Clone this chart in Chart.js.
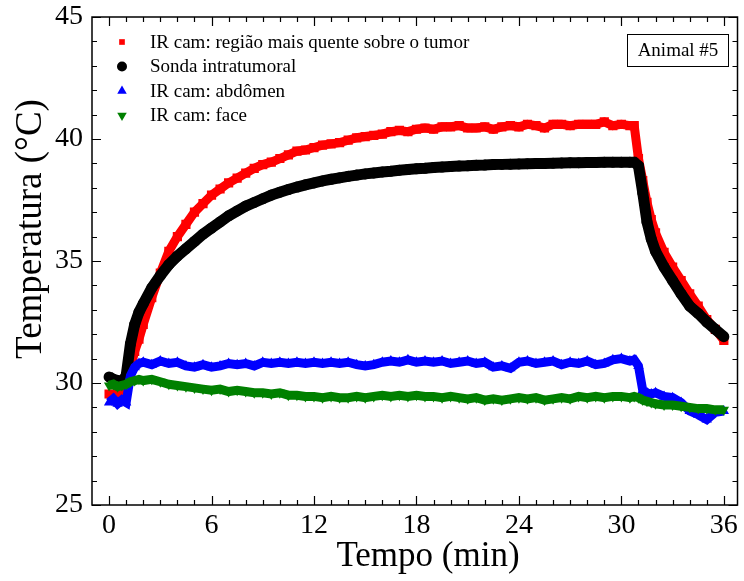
<!DOCTYPE html>
<html>
<head>
<meta charset="utf-8">
<script src="https://cdn.jsdelivr.net/npm/chart.js@4.4.0/dist/chart.umd.min.js"></script>
<style>
  html, body { margin: 0; padding: 0; background: #fff; }
</style>
</head>
<body>
<canvas id="myChart" width="744" height="581"></canvas>
<script>
// tempo (min) e temperaturas (°C) de cada sensor
const tempo = [
  0, 0.25, 0.5, 0.75, 1, 1.25, 1.5, 1.75, 2, 2.5,
  3, 3.5, 4, 4.5, 5, 5.5, 6, 6.5, 7, 7.5,
  8, 8.5, 9, 9.5, 10, 10.5, 11, 11.5, 12, 12.5,
  13, 13.5, 14, 14.5, 15, 15.5, 16, 16.5, 17, 17.5,
  18, 18.5, 19, 19.5, 20, 20.5, 21, 21.5, 22, 22.5,
  23, 23.5, 24, 24.5, 25, 25.5, 26, 26.5, 27, 27.5,
  28, 28.5, 29, 29.5, 30, 30.5, 30.75, 31, 31.25, 31.5,
  31.75, 32, 32.5, 33, 33.5, 34, 34.5, 35, 35.5, 36
];
const irTumor = [
  29.55, 29.5, 29.6, 29.45, 29.7, 30.6, 31.3, 31.8, 32.4, 33.5,
  34.5, 35.4, 36.0, 36.5, 37.0, 37.35, 37.7, 37.95, 38.2, 38.4,
  38.6, 38.8, 38.95, 39.05, 39.2, 39.35, 39.5, 39.55, 39.65, 39.75,
  39.8, 39.85, 39.95, 40.05, 40.1, 40.15, 40.2, 40.3, 40.35, 40.3,
  40.4, 40.45, 40.4, 40.5, 40.5, 40.55, 40.45, 40.45, 40.5, 40.4,
  40.5, 40.55, 40.5, 40.6, 40.55, 40.45, 40.6, 40.6, 40.55, 40.6,
  40.6, 40.6, 40.7, 40.55, 40.6, 40.55, 40.55, 39.2, 38.3, 37.4,
  36.7, 36.15, 35.35, 34.75, 34.2, 33.65, 33.15, 32.6, 32.2, 31.75
];
const sonda = [
  30.25, 30.15, 30.1, 30.05, 30.3, 31.6, 32.4, 32.9, 33.25, 33.9,
  34.4, 34.85, 35.2, 35.5, 35.8, 36.1, 36.35, 36.6, 36.85, 37.05,
  37.25, 37.4, 37.55, 37.7, 37.82, 37.93, 38.03, 38.12, 38.2, 38.28,
  38.35, 38.41, 38.47, 38.52, 38.57, 38.61, 38.65, 38.68, 38.72, 38.75,
  38.78, 38.8, 38.83, 38.85, 38.87, 38.89, 38.9, 38.92, 38.93, 38.95,
  38.96, 38.97, 38.98, 38.99, 39.0, 39.0, 39.01, 39.02, 39.03, 39.03,
  39.04, 39.04, 39.05, 39.05, 39.05, 39.05, 39.05, 38.9, 37.8, 36.6,
  35.9, 35.4, 34.75, 34.2, 33.65, 33.15, 32.85, 32.5, 32.2, 31.9
];
const irAbdomen = [
  29.2, 29.35, 29.15, 29.3, 29.2, 30.3, 30.65, 30.8, 30.85, 30.75,
  30.9, 30.8, 30.85, 30.7, 30.65, 30.75, 30.65, 30.7, 30.8, 30.75,
  30.8, 30.7, 30.85, 30.8, 30.85, 30.8, 30.85, 30.8, 30.85, 30.8,
  30.85, 30.8, 30.85, 30.75, 30.7, 30.75, 30.85, 30.9, 30.85, 30.95,
  30.85, 30.9, 30.85, 30.9, 30.8, 30.85, 30.9, 30.8, 30.85, 30.65,
  30.7, 30.6, 30.85, 30.9, 30.8, 30.85, 30.9, 30.75, 30.85, 30.8,
  30.9, 30.75, 30.8, 30.95, 31.0, 30.9, 30.95, 30.7, 29.7, 29.6,
  29.55, 29.6, 29.45, 29.4, 29.2, 28.85, 28.7, 28.5, 28.8, 28.85
];
const irFace = [
  29.9, 29.95, 29.85, 29.9, 29.95, 30.05, 30.1, 30.15, 30.1, 30.15,
  30.05, 29.95, 29.9, 29.85, 29.8, 29.75, 29.7, 29.75, 29.65, 29.7,
  29.65, 29.6, 29.6, 29.55, 29.6, 29.5, 29.5, 29.45, 29.45, 29.4,
  29.45, 29.4, 29.4, 29.45, 29.4, 29.45, 29.5, 29.45, 29.5, 29.45,
  29.5, 29.45, 29.45, 29.4, 29.45, 29.4, 29.35, 29.4, 29.3, 29.35,
  29.3, 29.35, 29.4, 29.35, 29.4, 29.3, 29.35, 29.4, 29.35, 29.45,
  29.4, 29.45, 29.4, 29.45, 29.45, 29.4, 29.45, 29.4, 29.3, 29.25,
  29.2, 29.15, 29.1, 29.1, 29.05, 29.0, 28.95, 28.95, 28.9, 28.9
];
const ticksX = [0, 6, 12, 18, 24, 30, 36];
const ticksY = [25, 30, 35, 40, 45];

const serif = '"Liberation Serif", "Times New Roman", serif';

function serie(label, valores, cor, estilo, raio, rot, largura, ordem) {
  return {
    label: label,
    data: tempo.map((t, i) => ({ x: t, y: valores[i] })),
    borderColor: cor,
    backgroundColor: cor,
    borderWidth: largura,
    pointStyle: estilo,
    pointRadius: raio,
    pointRotation: rot,
    pointBorderWidth: 0,
    pointBackgroundColor: cor,
    tension: 0,
    order: ordem
  };
}

const datasets = [
  serie('IR cam: região mais quente sobre o tumor', irTumor, '#ff0000', 'rect', 6.5, 0, 9, 4),
  serie('Sonda intratumoral', sonda, '#000000', 'circle', 5.5, 0, 11, 3),
  serie('IR cam: abdômen', irAbdomen, '#0000ff', 'triangle', 6, 0, 9, 2),
  serie('IR cam: face', irFace, '#008000', 'triangle', 6, 180, 9, 1)
];

// moldura, marcas de escala, títulos dos eixos e legenda
const moldura = {
  id: 'moldura',
  afterDraw(chart) {
    const ctx = chart.ctx;
    const a = chart.chartArea;
    const sx = chart.scales.x, sy = chart.scales.y;
    ctx.save();
    ctx.strokeStyle = '#000';
    ctx.lineWidth = 1.5;
    ctx.strokeRect(a.left, a.top, a.right - a.left, a.bottom - a.top);

    ctx.lineWidth = 1.2;
    ctx.beginPath();
    for (let v = ticksX[0]; v <= ticksX[ticksX.length - 1]; v++) {
      const px = Math.round(sx.getPixelForValue(v)) + 0.5;
      const len = ticksX.includes(v) ? 9 : 5;
      ctx.moveTo(px, a.bottom); ctx.lineTo(px, a.bottom - len);
      ctx.moveTo(px, a.top); ctx.lineTo(px, a.top + len);
    }
    for (let v = ticksY[0]; v <= ticksY[ticksY.length - 1]; v++) {
      const py = Math.round(sy.getPixelForValue(v)) + 0.5;
      const len = ticksY.includes(v) ? 9 : 5;
      ctx.moveTo(a.left, py); ctx.lineTo(a.left + len, py);
      ctx.moveTo(a.right, py); ctx.lineTo(a.right - len, py);
    }
    ctx.stroke();

    // títulos
    ctx.fillStyle = '#000';
    ctx.textAlign = 'center';
    ctx.textBaseline = 'alphabetic';
    ctx.font = '35px ' + serif;
    ctx.fillText('Tempo (min)', 428, 566);
    ctx.save();
    ctx.translate(41, 229);
    ctx.rotate(-Math.PI / 2);
    ctx.font = '37px ' + serif;
    ctx.fillText('Temperatura (°C)', 0, 0);
    ctx.restore();

    // legenda
    ctx.font = '19px ' + serif;
    ctx.textAlign = 'left';
    ctx.textBaseline = 'middle';
    const tam = [4, 5, 5.5, 5.5];
    datasets.forEach((ds, i) => {
      const yy = 42 + i * 24.5;
      ctx.fillStyle = ds.pointBackgroundColor;
      Chart.helpers.drawPoint(ctx, {
        pointStyle: ds.pointStyle,
        rotation: ds.pointRotation,
        radius: tam[i],
        borderWidth: 0
      }, 122, yy);
      ctx.fillStyle = '#000';
      ctx.fillText(ds.label, 150, yy + 1);
    });

    // caixa de identificação
    ctx.lineWidth = 1;
    ctx.strokeStyle = '#000';
    ctx.strokeRect(627.5, 34.5, 101, 32);
    ctx.textAlign = 'center';
    ctx.fillText('Animal #5', 678, 51);
    ctx.restore();
  }
};

const ctx = document.getElementById('myChart').getContext('2d');
const myChart = new Chart(ctx, {
  type: 'line',
  data: { datasets: datasets },
  options: {
    responsive: false,
    animation: false,
    devicePixelRatio: 1,
    layout: { padding: { top: 17, right: 2, left: 0, bottom: 0 } },
    plugins: { legend: { display: false }, tooltip: { enabled: false } },
    scales: {
      x: {
        type: 'linear',
        min: -1,
        max: 36.8,
        grid: { display: false, drawTicks: false },
        border: { display: false },
        afterBuildTicks: s => { s.ticks = ticksX.map(v => ({ value: v })); },
        afterFit: s => { s.height = 76; s.paddingLeft = 0; s.paddingRight = 0; },
        ticks: { color: '#000', font: { family: serif, size: 28 }, padding: 4, maxRotation: 0, autoSkip: false }
      },
      y: {
        min: 25,
        max: 45,
        grid: { display: false, drawTicks: false },
        border: { display: false },
        afterBuildTicks: s => { s.ticks = ticksY.map(v => ({ value: v })); },
        afterFit: s => { s.width = 92; s.paddingTop = 0; s.paddingBottom = 0; },
        ticks: { color: '#000', font: { family: serif, size: 28 }, padding: 9, autoSkip: false }
      }
    }
  },
  plugins: [moldura]
});
</script>
</body>
</html>
